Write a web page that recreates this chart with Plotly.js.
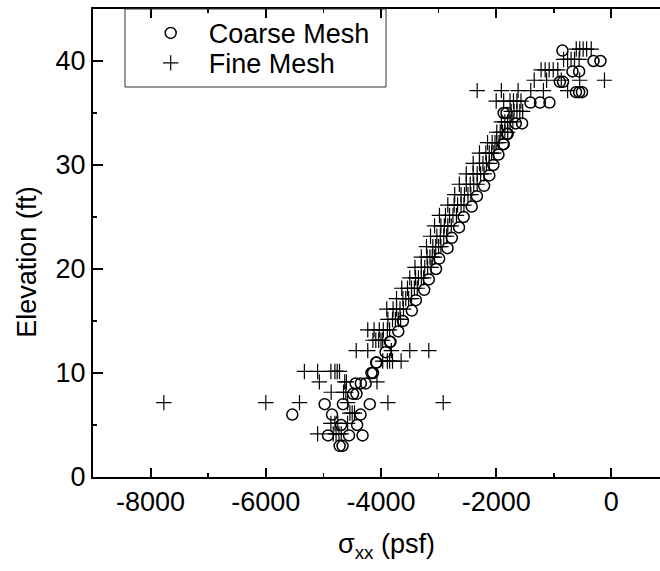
<!DOCTYPE html>
<html>
<head>
<meta charset="utf-8">
<script src="https://cdn.plot.ly/plotly-3.0.1.min.js"></script>
<style>html,body{margin:0;padding:0;background:#fff;overflow:hidden}#chart{width:660px;height:571px}</style>
</head>
<body>
<div id="chart"></div>
<script>
// Coarse Mesh (circles): elevation (ft) and sigma_xx (psf)
const coarseElev = [
  41,
  40, 40,
  39, 39,
  38, 38,
  37, 37, 37,
  36, 36, 36,
  35, 35,
  34, 34,
  33, 33,
  32, 32,
  31, 30, 29, 28, 27, 26, 25, 24, 23, 22, 21, 20, 19, 18, 17, 16, 15, 14,
  13, 13,
  12,
  11, 11,
  10, 10,
  9, 9, 9,
  8, 8,
  7, 7, 7,
  6, 6, 6,
  5, 5,
  4, 4, 4,
  3, 3
];
const coarseSxx = [
  -850,
  -310, -190,
  -675, -560,
  -895, -840,
  -615, -560, -510,
  -1405, -1240, -1075,
  -1870, -1820,
  -1660, -1550,
  -1815, -1800,
  -1880, -1870,
  -1960, -2050, -2120, -2210, -2335, -2425, -2565, -2645, -2770, -2845, -2990, -3045, -3170, -3250, -3395, -3465, -3620, -3700,
  -3845, -3835,
  -3920,
  -4085, -4075,
  -4165, -4140,
  -4440, -4350, -4265,
  -4485, -4425,
  -4978, -4660, -4195,
  -5540, -4850, -4355,
  -4692, -4415,
  -4920, -4555, -4320,
  -4718, -4668
];

// Fine Mesh (crosses): elevation (ft) and sigma_xx (psf)
const fineElev = [
  41.15, 41.15, 41.15, 41.15, 41.15,
  40.15, 40.15, 40.15, 40.15, 40.15,
  39.15, 39.15, 39.15, 39.15, 39.15,
  38.15, 38.15, 38.15, 38.15, 38.15,
  37.15, 37.15, 37.15, 37.15, 37.15, 37.15,
  36.15, 36.15, 36.15, 36.15, 36.15, 36.15,
  35.15, 35.15, 35.15, 35.15, 35.15,
  34.15, 34.15, 34.15, 34.15, 34.15,
  33.15, 33.15, 33.15, 33.15, 33.15,
  32.15, 32.15, 32.15, 32.15, 32.15,
  31.15, 31.15, 31.15, 31.15, 31.15,
  30.15, 30.15, 30.15, 30.15, 30.15,
  29.15, 29.15, 29.15, 29.15, 29.15,
  28.15, 28.15, 28.15, 28.15, 28.15,
  27.15, 27.15, 27.15, 27.15, 27.15,
  26.15, 26.15, 26.15, 26.15, 26.15,
  25.15, 25.15, 25.15, 25.15, 25.15,
  24.15, 24.15, 24.15, 24.15, 24.15,
  23.15, 23.15, 23.15, 23.15, 23.15,
  22.15, 22.15, 22.15, 22.15, 22.15,
  21.15, 21.15, 21.15, 21.15, 21.15,
  20.15, 20.15, 20.15, 20.15, 20.15,
  19.15, 19.15, 19.15, 19.15, 19.15,
  18.15, 18.15, 18.15, 18.15, 18.15,
  17.15, 17.15, 17.15, 17.15, 17.15,
  16.15, 16.15, 16.15, 16.15, 16.15,
  15.15, 15.15, 15.15, 15.15, 15.15,
  14.15, 14.15, 14.15, 14.15, 14.15, 14.15,
  13.15, 13.15, 13.15, 13.15, 13.15,
  12.15, 12.15, 12.15, 12.15, 12.15,
  11.15, 11.15, 11.15, 11.15, 11.15,
  10.15, 10.15, 10.15, 10.15, 10.15, 10.15,
  9.15, 9.15, 9.15, 9.15,
  8.15, 8.15, 8.15,
  7.15, 7.15, 7.15, 7.15, 7.15, 7.15,
  6.15, 6.15, 6.15,
  5.15, 5.15, 5.15, 5.15,
  4.15, 4.15, 4.15, 4.15, 4.15
];
const fineSxx = [
  -610, -550, -490, -430, -350,
  -830, -760, -700, -640, -560,
  -1220, -1150, -1080, -1010, -930,
  -1340, -1125, -870, -550, -120,
  -2330, -1910, -1620, -1400, -1180, -760,
  -2000, -1870, -1760, -1700, -1640, -1570,
  -1740, -1690, -1640, -1590, -1540,
  -1910, -1850, -1800, -1760, -1710,
  -1990, -1930, -1890, -1850, -1800,
  -2150, -2070, -2020, -1990, -1950,
  -2290, -2180, -2120, -2080, -2040,
  -2400, -2290, -2230, -2170, -2120,
  -2520, -2400, -2330, -2270, -2210,
  -2640, -2520, -2450, -2390, -2330,
  -2720, -2610, -2550, -2490, -2440,
  -2840, -2730, -2670, -2610, -2560,
  -2985, -2880, -2810, -2750, -2690,
  -3070, -2960, -2900, -2840, -2780,
  -3140, -3030, -2970, -2910, -2860,
  -3210, -3100, -3050, -3000, -2960,
  -3300, -3200, -3150, -3110, -3070,
  -3410, -3300, -3240, -3190, -3130,
  -3500, -3400, -3350, -3300, -3260,
  -3640, -3540, -3470, -3420, -3370,
  -3730, -3620, -3570, -3520, -3470,
  -3900, -3790, -3730, -3670, -3610,
  -3880, -3800, -3750, -3700, -3660,
  -4230, -4120, -4030, -3960, -3890, -3850,
  -4140, -4090, -4040, -4000, -3970,
  -4430, -4230, -3820, -3500, -3170,
  -3970, -3890, -3850, -3800, -3650,
  -5330, -5100, -4870, -4800, -4760, -4720,
  -5070, -4630, -4600, -4070,
  -4865, -4650, -4610,
  -7770, -6000, -5415, -4580, -3880, -2920,
  -4540, -4500, -4460,
  -4870, -4800, -4750, -4580,
  -5100, -4830, -4780, -4730, -4690
];

const seriesNames = ['Coarse Mesh', 'Fine Mesh'];
const xTickVals = [-8000, -6000, -4000, -2000, 0];
const xTickText = ['-8000', '-6000', '-4000', '-2000', '0'];
const yTickVals = [0, 10, 20, 30, 40];
const yTickText = ['0', '10', '20', '30', '40'];
const xTitle = 'σ<sub>xx</sub> (psf)';
const yTitle = 'Elevation (ft)';

const FONT = 'Liberation Sans, Arial, sans-serif';
const FS = 27;

const traces = [
  {
    type: 'scatter', mode: 'markers', name: seriesNames[0],
    x: coarseSxx, y: coarseElev,
    marker: {symbol: 'circle-open', size: 11, color: '#000', line: {width: 1.5, color: '#000'}},
    legend: 'legend'
  },
  {
    type: 'scatter', mode: 'markers', name: seriesNames[1],
    x: fineSxx, y: fineElev,
    marker: {symbol: 'cross-thin-open', size: 11, color: '#000', line: {width: 1.2, color: '#000'}},
    legend: 'legend2'
  }
];

const legendCommon = {
  bgcolor: 'rgba(0,0,0,0)', borderwidth: 0,
  font: {family: FONT, size: FS, color: '#000'},
  itemwidth: 66, xanchor: 'left', yanchor: 'middle'
};

const layout = {
  width: 660, height: 571,
  margin: {l: 93, r: 0, t: 9, b: 94, pad: 0},
  paper_bgcolor: '#fff', plot_bgcolor: '#fff',
  font: {family: FONT, size: FS, color: '#000'},
  showlegend: true,
  legend: Object.assign({x: 0.07, y: 0.948}, legendCommon),
  legend2: Object.assign({x: 0.07, y: 0.884}, legendCommon),
  xaxis: {
    range: [-9000, 844], showgrid: false, zeroline: false,
    showline: true, linecolor: '#000', linewidth: 2, mirror: 'ticks',
    ticks: 'inside', ticklen: 9, tickwidth: 2, tickcolor: '#000',
    tickvals: xTickVals, ticktext: xTickText,
    tickfont: {family: FONT, size: FS, color: '#000'},
    minor: {dtick: 1000, tick0: 0, ticks: 'inside', ticklen: 4, tickwidth: 1.5, tickcolor: '#000'}
  },
  yaxis: {
    range: [0, 45], showgrid: false, zeroline: false,
    showline: true, linecolor: '#000', linewidth: 2, mirror: false,
    ticks: 'inside', ticklen: 10, tickwidth: 2, tickcolor: '#000',
    tickvals: yTickVals, ticktext: yTickText,
    tickfont: {family: FONT, size: FS, color: '#000'},
    minor: {dtick: 5, tick0: 0, ticks: 'inside', ticklen: 4, tickwidth: 1.5, tickcolor: '#000'}
  },
  shapes: [
    {type: 'rect', xref: 'paper', yref: 'paper', x0: 0.0564, x1: 0.5168, y0: 0.8333, y1: 1,
     line: {color: '#333', width: 1}, fillcolor: 'rgba(0,0,0,0)'}
  ],
  annotations: [
    {text: xTitle, xref: 'paper', yref: 'paper', x: 0.517, y: -0.147, showarrow: false,
     xanchor: 'center', yanchor: 'middle', font: {family: FONT, size: FS, color: '#000'}},
    {text: yTitle, xref: 'paper', yref: 'paper', x: -0.1164, y: 0.46, showarrow: false, textangle: -90,
     xanchor: 'center', yanchor: 'middle', font: {family: FONT, size: FS, color: '#000'}}
  ]
};

Plotly.newPlot('chart', traces, layout, {displayModeBar: false, staticPlot: true});
</script>
</body>
</html>
